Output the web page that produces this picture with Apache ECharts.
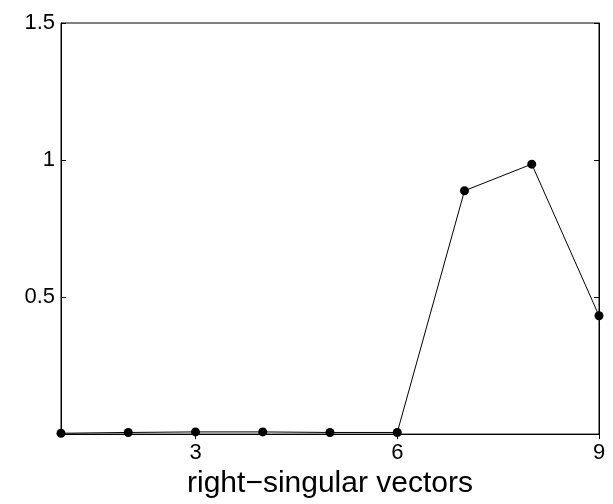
<!DOCTYPE html>
<html><head><meta charset="utf-8">
<script src="https://cdn.jsdelivr.net/npm/echarts@6/dist/echarts.min.js"></script>
<style>html,body{margin:0;padding:0;background:#fff}#c{width:613px;height:504px}</style>
</head><body><div id="c"></div>
<script>
const xValues = [1, 2, 3, 4, 5, 6, 7, 8, 9];
const yValues = [0.003, 0.006, 0.008, 0.008, 0.006, 0.006, 0.888, 0.985, 0.432];
const xTicks = [3, 6, 9];
const yTicks = [0.5, 1, 1.5];
const xTitle = 'right\u2212singular vectors';

const font = 'Liberation Sans, Arial, Helvetica, sans-serif';
const chart = echarts.init(document.getElementById('c'), null, {renderer: 'canvas'});
const tick = {show: true, inside: true, length: 5, lineStyle: {color: '#000', width: 1}};
chart.setOption({
  animation: false,
  backgroundColor: '#fff',
  grid: {left: 61, right: 14, top: 23, bottom: 67, show: true, borderColor: '#000', borderWidth: 1, containLabel: false},
  xAxis: [{
    type: 'value', min: 1, max: 9, position: 'bottom',
    name: xTitle, nameLocation: 'middle', nameGap: 30,
    nameTextStyle: {fontFamily: font, fontSize: 30, color: '#000'},
    axisLine: {show: true, lineStyle: {color: '#000'}},
    axisTick: Object.assign({customValues: xTicks}, tick),
    axisLabel: {customValues: xTicks, fontFamily: font, fontSize: 22, color: '#000', margin: 8},
    splitLine: {show: false}
  }, {
    type: 'value', min: 1, max: 9, position: 'top',
    axisLine: {show: true, lineStyle: {color: '#000'}},
    axisTick: Object.assign({customValues: xTicks}, tick),
    axisLabel: {show: false}, splitLine: {show: false}
  }],
  yAxis: [{
    type: 'value', min: 0, max: 1.5, position: 'left',
    axisLine: {show: true, lineStyle: {color: '#000'}},
    axisTick: Object.assign({customValues: yTicks}, tick),
    axisLabel: {customValues: yTicks, fontFamily: font, fontSize: 22, color: '#000', margin: 6},
    splitLine: {show: false}
  }, {
    type: 'value', min: 0, max: 1.5, position: 'right',
    axisLine: {show: true, lineStyle: {color: '#000'}},
    axisTick: Object.assign({customValues: yTicks}, tick),
    axisLabel: {show: false}, splitLine: {show: false}
  }],
  series: [{
    type: 'line',
    data: xValues.map((x, i) => [x, yValues[i]]),
    symbol: 'circle', symbolSize: 9,
    itemStyle: {color: '#000'},
    lineStyle: {color: '#000', width: 1},
    clip: false
  }]
});
</script></body></html>
